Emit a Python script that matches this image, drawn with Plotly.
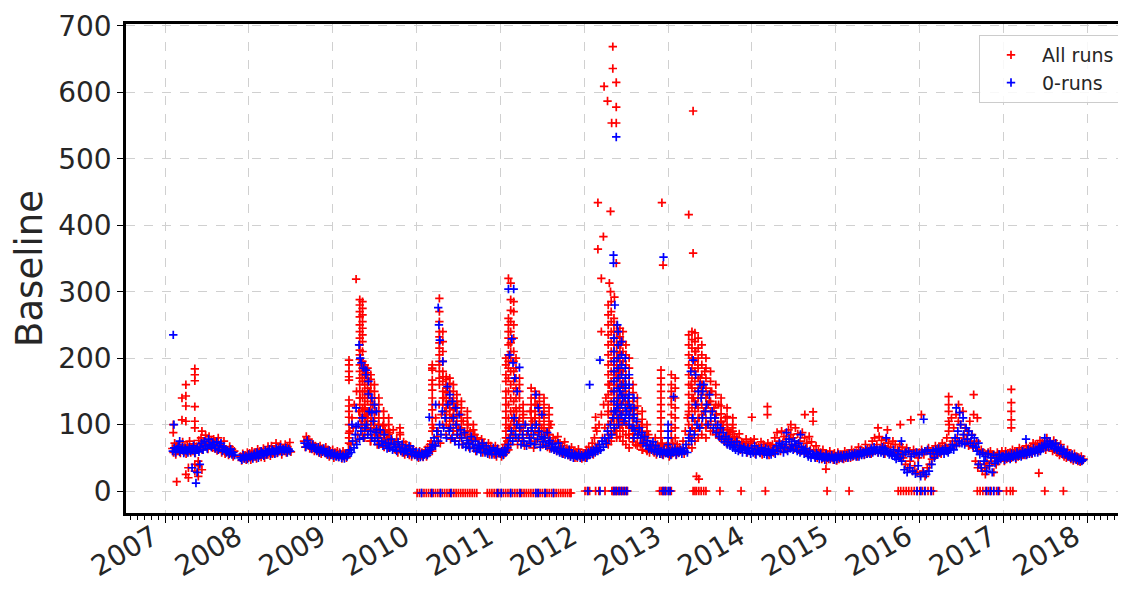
import pandas as pd
import plotly.graph_objects as go

# ---------------- data ----------------
# "All runs" baseline band: (start date, values every RED_STEP days)
RED_STEP = 5
RED_SEGMENTS = [
    ("2007-02-01", [64,58,72,55,68,61, 70,57,63,74,59,66, 56,69,62,75,58,65, 60,71,57,67,63,76,
                    66,80,62,74,70,84, 72,63,82,68,77,65, 78,64,73,61,80,69, 70,58,66,75,56,63,
                    61,54,67,57,63,52,60]),
    ("2007-11-25", [52,46,56,49,54,47,58, 50,57,47,60,52,55, 58,49,63,53,60,51, 55,64,50,61,57,67,
                    60,53,68,56,63,58,72, 57,66,60,70,55,64, 62,70,58,67,61,73,59]),
    ("2008-08-28", [75,66,82,70,78,64, 72,63,70,60,68,66, 62,58,68,56,64,60, 58,66,55,62,52,60,
                    55,62,50,58,53,60, 51,58,54,49,60,52,56,50,57]),
    ("2009-03-10", [62,90,70,110, 95,130,75,150,85,120, 140,100,170,80,125,110, 115,90,150,75,105,130,
                    95,80,120,70,100,88, 85,72,98,66,90,78, 80,65,88,70,76,92, 72,62,78,58,68,85,
                    66,58,74,55,70,62, 60,54,67,52,63,57, 55,60]),
    ("2010-01-04", [56,50,60,53,58,51, 55,62,52,66,58,70, 75,60,95,68,110,82, 90,130,72,115,100,140,
                    120,85,150,95,135,78, 110,90,125,75,100,130, 95,80,115,70,105,88, 85,72,100,66,90,78,
                    75,65,85,60,80,70, 70,62,78,58,72,65, 65,58,72,55,68,61, 62,55,68,52,64,58]),
    ("2011-01-01", [58,52,64,55,70,60, 75,62,95,70,110,85, 100,80,120,70,105,90, 95,75,115,68,100,85,
                    90,70,120,80,105,65, 110,75,130,88,100,70, 95,70,115,80,90,66, 85,64,100,72,80,62,
                    75,60,82,66,72,58, 68,56,74,60,64,54, 62,52,66,55,60,50, 58,50,63,53,57,49,55]),
    ("2012-01-01", [55,50,62,53,66,58, 60,72,55,80,64,90, 70,100,62,115,80,130, 95,140,75,120,160,85,
                    150,110,200,90,175,130, 180,120,220,100,160,140, 150,100,130,85,120,95,
                    110,80,125,70,95,85, 90,70,100,62,80,75, 75,62,85,58,70,66, 68,58,80,55,70,62,
                    65,56,72,54,62,58,68]),
    ("2013-01-01", [58,52,65,55,72,60, 62,54,70,57,66,60, 60,75,56,90,65,110, 120,80,160,95,140,180,
                    210,130,190,110,170,150, 160,120,180,100,145,130, 135,100,150,90,125,110,
                    115,90,130,80,105,95, 100,80,110,72,92,85, 88,72,95,68,82,76, 80,66,86,62,74,70,
                    72,62,78,58,68,64,75]),
    ("2014-01-01", [72,60,78,56,68,64, 66,58,74,55,70,62, 64,56,72,54,68,60, 70,58,80,62,88,66,
                    75,60,90,68,82,64, 78,62,92,70,85,66, 80,64,95,70,86,62, 75,60,88,66,80,58,
                    72,56,82,62,74,55, 62,52,68,50,60,55, 58,48,62,50,56,46, 55,48,60,50,54,47,57]),
    ("2015-01-01", [52,46,58,48,55,50, 54,48,60,50,57,52, 56,50,62,52,58,54, 58,52,66,55,62,57,
                    60,54,70,56,64,58, 65,56,75,60,80,62, 70,58,82,62,76,60, 68,56,78,60,72,58,
                    66,55,75,58,70,56, 62,52,70,55,66,50, 58,40,65,35,60,45, 55,30,62,38,58,28,50]),
    ("2016-01-01", [58,25,62,30,55,22, 60,35,65,40,58,48, 62,52,68,55,64,58, 65,56,72,60,68,62,
                    80,62,100,70,110,75, 95,70,115,80,105,72, 100,75,120,85,95,78, 90,68,105,75,85,65,
                    70,45,75,35,60,40, 62,30,58,35,55,42, 58,38,60,45,55,28, 52,40,58,45,55,48,60]),
    ("2017-01-01", [55,45,60,48,57,50, 58,50,62,52,60,48, 60,52,65,55,62,54, 62,54,68,56,64,58,
                    66,56,72,60,70,62, 70,60,76,64,72,66, 74,62,80,66,75,68, 70,60,76,62,72,58,
                    64,54,70,56,62,52, 58,50,62,52,56,48, 54,46,56,48,52,45, 50,44,52,46,48]),
]

# "All runs" high-baseline columns (date, values observed around that date)
RED_COLUMNS = [
    ("2007-02-05", [100, 88]), ("2007-02-20", [14]), ("2007-03-15", [140, 107]),
    ("2007-04-01", [143, 160, 128, 105, 25]), ("2007-04-12", [20, 35]),
    ("2007-05-10", [184, 175, 166, 127, 105, 95, 40, 30]), ("2007-05-25", [22, 45, 38]),
    ("2007-06-10", [90, 32]),
    ("2009-03-12", [197, 190, 180, 172, 167, 137, 128, 120, 111, 100, 87, 80, 72]),
    ("2009-04-12", [319]),
    ("2009-04-28", [288, 280, 270, 262, 250, 240, 230, 220, 212, 205, 198, 190, 180, 170, 160, 150, 140, 130, 120, 110]),
    ("2009-05-10", [285, 275, 265, 255, 245, 235, 225, 210, 195, 185, 175, 165, 150, 140, 125, 115, 105, 95, 85]),
    ("2009-05-20", [190, 182, 176, 170, 160, 150, 140, 130, 122, 112, 100, 90, 80]),
    ("2009-06-01", [185, 178, 170, 165, 155, 145, 135, 120, 110, 100, 92]),
    ("2009-06-15", [175, 168, 160, 150, 140, 130, 118, 105, 95, 85, 75]),
    ("2009-07-01", [160, 150, 140, 130, 120, 110, 100, 90, 80]),
    ("2009-07-20", [140, 130, 120, 110, 100, 90, 80, 70]),
    ("2009-08-10", [120, 110, 100, 92, 85, 75]),
    ("2009-09-01", [110, 100, 92, 85, 78, 70]),
    ("2009-10-20", [95, 88]),
    ("2010-03-10", [190, 185, 182, 167, 160, 152, 140, 130, 122, 110, 100, 90]),
    ("2010-04-10", [290, 270, 255, 240, 232, 223, 215, 205, 195, 190, 180, 170, 160]),
    ("2010-04-25", [240, 225, 210, 195, 180, 172, 165, 150, 140, 130]),
    ("2010-05-10", [172, 168, 160, 155, 148, 140, 130, 120, 110, 100]),
    ("2010-05-25", [170, 162, 150, 140, 135, 125, 115, 105, 95]),
    ("2010-06-10", [160, 150, 140, 132, 122, 112, 100, 90]),
    ("2010-06-25", [145, 135, 125, 115, 105, 95, 85]),
    ("2010-07-15", [135, 125, 115, 105, 95, 85]),
    ("2010-08-10", [120, 110, 100, 90, 80]),
    ("2010-09-05", [100, 92, 85, 78]),
    ("2011-01-25", [200, 190, 175, 165, 150, 140, 130, 120, 110, 100, 90, 80, 70, 60]),
    ("2011-02-05", [320, 260, 250, 240, 230, 220, 205, 195, 185, 170, 150, 130, 110, 95, 80]),
    ("2011-02-15", [313, 288, 272, 255, 240, 223, 210, 200, 180, 160, 140, 120, 100, 85]),
    ("2011-02-28", [285, 270, 250, 230, 210, 195, 180, 165, 150, 135, 120, 105, 90]),
    ("2011-03-10", [200, 185, 170, 155, 140, 125, 110, 95, 80]),
    ("2011-03-25", [170, 160, 150, 140, 125, 110, 95, 80]),
    ("2011-04-10", [130, 120, 110, 100, 90, 80]),
    ("2011-05-15", [155, 140, 130, 120, 110, 100, 90, 80]),
    ("2011-06-01", [150, 140, 130, 120, 110, 100, 90]),
    ("2011-06-20", [145, 135, 125, 115, 105, 95, 85]),
    ("2011-07-10", [140, 130, 120, 110, 100, 90, 80]),
    ("2011-08-01", [125, 115, 105, 95, 85, 75]),
    ("2012-02-20", [111, 95]), ("2012-03-01", [434, 364]), ("2012-03-16", [320, 240]),
    ("2012-03-25", [383]), ("2012-03-28", [609]), ("2012-04-12", [587]),
    ("2012-04-20", [313]), ("2012-04-25", [421, 300]), ("2012-04-30", [554]),
    ("2012-05-05", [669, 636]), ("2012-05-20", [615, 578, 554, 343]), ("2012-05-12", [292]),
    ("2012-04-15", [280, 265, 250, 235, 220, 205, 190, 175, 160, 145, 130, 115, 100, 85, 70]),
    ("2012-04-28", [285, 270, 255, 240, 225, 210, 195, 180, 165, 150, 135, 120, 105, 90, 75]),
    ("2012-05-10", [260, 250, 240, 230, 220, 210, 200, 190, 180, 170, 160, 150, 140, 130, 120, 110, 100, 90]),
    ("2012-05-22", [250, 240, 230, 220, 210, 200, 190, 180, 170, 160, 150, 140, 130, 120, 110, 100, 90, 80]),
    ("2012-06-05", [245, 232, 220, 208, 195, 182, 170, 158, 145, 132, 120, 108, 95, 82]),
    ("2012-06-18", [240, 225, 210, 195, 180, 165, 150, 135, 120, 105, 90, 75]),
    ("2012-07-01", [220, 205, 190, 175, 160, 145, 130, 115, 100, 85, 70]),
    ("2012-07-15", [200, 185, 170, 155, 140, 125, 110, 95, 80, 65]),
    ("2012-08-01", [160, 148, 135, 122, 110, 98, 86, 74]),
    ("2012-08-20", [140, 128, 116, 104, 92, 80, 68]),
    ("2012-09-10", [120, 108, 96, 84, 72, 62]),
    ("2012-10-01", [100, 90, 80, 70, 60]),
    ("2012-12-01", [182, 170, 160, 150, 140, 130, 120, 110, 100, 90, 80, 70]),
    ("2012-12-05", [434]), ("2012-12-10", [340]),
    ("2013-01-15", [175, 160, 150, 140, 130, 115, 100, 90, 80]),
    ("2013-02-01", [170, 155, 140, 125, 110, 95, 80]),
    ("2013-04-01", [416, 235, 220, 205, 190, 175, 160, 145, 130, 115, 100, 85, 70]),
    ("2013-04-15", [240, 228, 215, 200, 185, 170, 155, 140, 125, 110, 95, 80, 65]),
    ("2013-04-20", [572, 358]),
    ("2013-04-28", [238, 225, 210, 195, 180, 165, 150, 135, 120, 105, 90, 75]),
    ("2013-05-05", [22]), ("2013-05-15", [18]),
    ("2013-05-12", [230, 215, 200, 185, 170, 155, 140, 125, 110, 95, 80]),
    ("2013-05-28", [220, 205, 190, 175, 160, 145, 130, 115, 100, 85]),
    ("2013-06-15", [200, 185, 170, 155, 140, 125, 110, 95, 80]),
    ("2013-07-05", [180, 165, 150, 135, 120, 105, 90]),
    ("2013-07-28", [160, 145, 130, 115, 100, 85]),
    ("2013-08-20", [140, 128, 116, 104, 92, 80]),
    ("2013-09-15", [125, 112, 100, 88, 76]),
    ("2013-10-10", [110, 100, 90, 80, 70]),
    ("2014-01-01", [111]), ("2014-03-10", [127, 115]), ("2014-06-20", [100]),
    ("2014-08-20", [115]), ("2014-09-25", [119, 105]), ("2014-11-20", [33]),
    ("2015-07-05", [95]), ("2015-08-15", [92]), ("2015-10-10", [100]), ("2015-11-25", [107]),
    ("2016-01-10", [115]), ("2016-05-08", [142, 130, 120, 105, 90]), ("2016-06-20", [130]),
    ("2016-08-25", [145, 115]), ("2016-09-10", [110]), ("2016-10-15", [35, 25]),
    ("2017-02-05", [153, 133, 120, 107, 95]), ("2017-06-05", [27]),
]

# "0-runs" baseline band: (start date, values every BLUE_STEP days)
BLUE_STEP = 6
BLUE_SEGMENTS = [
    ("2007-02-03", [60,65,58,63,67,59,62,66,57,64, 61,58,66,60,63,68,57,62,65,59,
                    66,72,62,75,68,64,78,70,66,73, 70,64,74,62,68,72,60,66,63,58, 60,56,63,55,58,54]),
    ("2007-11-25", [50,47,54,49,52,48,55,51, 53,49,56,52,58,50,55,60, 57,53,61,55,59,63,56,62,
                    60,56,64,58,62,66,59,63, 61,65,58,63,60]),
    ("2008-08-30", [72,66,76,70,68,64,70,65, 63,60,66,58,62,59,64,57, 58,55,61,54,57,53,56,52,
                    54,51,56,50,53,49,55,52]),
    ("2009-03-10", [56,62,58,75,65, 85,70,100,78,90,110,80,95, 100,85,120,90,80,105,75,88,
                    80,70,92,75,68,85,72,64, 72,65,78,62,70,66,60,74, 66,60,70,58,64,62,56,68,
                    60,55,63,54,58,52]),
    ("2010-01-05", [53,58,51,56,52,55,60,54, 57,62,65,70,80,68,90,75, 100,85,120,95,110,80,130,90,
                    95,80,110,75,100,85,70,92, 80,70,88,66,76,72,64,82, 70,64,75,60,68,66,58,72,
                    64,58,68,56,62,60,55,65, 60,55,63,57]),
    ("2011-01-01", [56,60,54,62,58,65,70,80, 90,75,110,85,100,80,95,70, 85,75,100,68,90,80,72,95,
                    85,70,100,78,90,66,82,74, 80,68,88,72,76,64,70,62, 66,60,72,58,64,56,62,55,
                    58,54,62,52,57,50,55,53, 52,56,50,54,51]),
    ("2012-01-01", [52,56,50,58,54,60,56,62, 58,65,60,70,62,75,66,80, 72,90,80,100,85,110,95,120,
                    130,100,150,115,140,105,160,120, 140,110,125,95,115,90,105,85, 95,80,88,72,82,68,76,64,
                    70,62,74,60,68,58,64,56, 60,55,62,57,58]),
    ("2013-01-01", [56,60,54,62,58,64,55,60, 58,62,56,64,60,70,58,80, 90,75,110,85,130,100,150,95,
                    140,110,160,120,130,100,145,110, 120,95,110,88,100,82,95,78, 88,74,82,70,78,68,74,65,
                    70,62,74,60,68,64,58,66, 62,58,65,60,56]),
    ("2014-01-01", [64,58,68,55,62,60,57,65, 60,56,64,54,62,58,55,60, 62,56,68,60,72,64,70,58,
                    66,74,60,78,64,70,62,75, 68,60,72,58,66,62,56,64, 58,52,60,50,56,54,50,57,
                    54,48,56,50,52,47,55,50, 52,48,54,50,47]),
    ("2015-01-01", [52,48,55,50,53,49,54,51, 54,50,56,52,55,53,57,52, 56,52,60,54,58,55,62,56,
                    60,56,64,58,66,60,62,58, 62,58,66,56,64,60,58,55, 58,54,62,52,48,55,60,50,
                    45,55,32,58,28,60,35,52, 30,56,26,58,38]),
    ("2016-01-01", [55,22,58,28,60,25,62,30, 56,40,60,50,62,55,64,58, 60,62,56,65,60,58,62,64,
                    70,62,80,68,90,75,100,72, 85,70,95,78,90,72,84,68, 80,66,60,40,55,35,58,45,
                    52,30,56,38,50,28,54,42, 50,45,55,48,52]),
    ("2017-01-01", [52,47,55,50,53,48,56,51, 55,50,58,53,56,52,60,55, 58,54,62,56,60,57,64,58,
                    62,58,66,60,68,64,70,66, 72,66,75,68,70,64,72,62, 66,60,64,56,62,55,58,52,
                    54,50,55,48,52,47,50,46, 48,45,47]),
]

BLUE_COLUMNS = [
    ("2007-02-05", [235]), ("2007-02-08", [100]), ("2007-03-05", [75]),
    ("2007-04-28", [35]), ("2007-05-15", [12]), ("2007-05-20", [28]), ("2007-06-01", [40]),
    ("2009-03-25", [100]), ("2009-04-12", [125, 97]),
    ("2009-04-25", [220]), ("2009-04-30", [200]), ("2009-05-05", [193]), ("2009-05-15", [185]),
    ("2009-05-25", [182, 175]), ("2009-06-05", [165, 146]), ("2009-06-20", [140, 118]),
    ("2009-07-01", [130]), ("2009-07-10", [120, 93]),
    ("2010-02-25", [111]), ("2010-03-25", [130]), ("2010-04-05", [276]), ("2010-04-08", [250]),
    ("2010-04-12", [227]), ("2010-04-25", [195]), ("2010-05-15", [157]), ("2010-05-25", [145]),
    ("2010-06-05", [135]), ("2010-06-20", [125]), ("2010-07-05", [115]),
    ("2011-02-05", [304]), ("2011-02-28", [304]), ("2011-02-20", [229]), ("2011-02-10", [205]),
    ("2011-02-25", [193]), ("2011-03-25", [186]), ("2011-03-05", [170]), ("2011-03-15", [150]),
    ("2011-06-05", [145]), ("2011-06-15", [125]), ("2011-07-01", [115]),
    ("2012-01-25", [160]), ("2012-03-10", [197]), ("2012-05-08", [355, 343]), ("2012-05-20", [533]),
    ("2012-05-14", [280]), ("2012-05-25", [250]),
    ("2012-05-10", [230, 210, 195, 180, 165, 150, 135, 120]),
    ("2012-05-28", [240, 220, 200, 185, 170, 155, 140, 125, 110]),
    ("2012-06-12", [225, 205, 190, 175, 160, 145, 130, 115]),
    ("2012-06-28", [200, 185, 170, 155, 140, 125, 110]),
    ("2012-07-15", [175, 160, 145, 130, 115, 100]),
    ("2012-08-05", [140, 125, 110, 95, 80]),
    ("2012-12-12", [352]), ("2013-01-01", [100, 90, 80, 70]), ("2013-01-25", [142]),
    ("2013-04-10", [180]), ("2013-04-20", [197]), ("2013-05-01", [175]), ("2013-05-20", [160]),
    ("2013-06-01", [150]),
    ("2014-06-01", [88]), ("2014-08-01", [85]), ("2015-08-10", [80]), ("2015-10-15", [75]),
    ("2016-01-20", [108]), ("2016-06-10", [125]), ("2016-06-25", [118]), ("2016-07-10", [110]),
    ("2016-09-15", [72]), ("2017-04-10", [78]), ("2017-07-01", [80]),
]

# runs whose baseline was recorded as zero
ZERO_LEVEL_EARLY = -3
ZERO_LEVEL_LATE = 0
RED_ZERO_EARLY = [
    "2010-01-03","2010-01-13","2010-01-23","2010-02-02","2010-02-12","2010-02-22","2010-03-04",
    "2010-03-14","2010-03-24","2010-04-03","2010-04-13","2010-04-23","2010-05-03","2010-05-13",
    "2010-05-23","2010-06-02","2010-06-12","2010-06-22","2010-07-02","2010-07-12","2010-07-22",
    "2010-08-01","2010-08-11","2010-08-21","2010-08-31","2010-09-10","2010-09-20","2010-11-05",
    "2010-11-15","2010-11-25","2010-12-05","2010-12-15","2010-12-25","2011-01-04","2011-01-14",
    "2011-01-24","2011-02-03","2011-02-13","2011-02-23","2011-03-05","2011-03-15","2011-03-25",
    "2011-04-04","2011-04-14","2011-04-24","2011-05-04","2011-05-14","2011-05-24","2011-06-03",
    "2011-06-13","2011-06-23","2011-07-03","2011-07-13","2011-07-23","2011-08-02","2011-08-12",
    "2011-08-22","2011-09-01","2011-09-11","2011-09-21","2011-10-01","2011-10-11","2011-10-21",
    "2011-10-31","2011-11-05",
]
RED_ZERO_LATE = [
    "2012-01-05","2012-01-15","2012-01-25","2012-02-20","2012-03-05","2012-04-01","2012-05-01",
    "2012-05-06","2012-05-12","2012-05-18","2012-05-24","2012-06-01","2012-06-08","2012-06-15",
    "2012-06-22","2012-07-01","2012-07-08","2012-11-25","2012-12-02","2012-12-09","2012-12-16",
    "2012-12-23","2013-01-05","2013-01-15","2013-04-20","2013-04-28","2013-05-05","2013-05-15",
    "2013-05-25","2013-06-05","2013-06-15","2013-08-15","2013-11-15","2014-03-01","2014-11-25",
    "2015-03-01","2015-10-01","2015-10-12","2015-10-24","2015-11-05","2015-11-16","2015-11-28",
    "2015-12-10","2015-12-22","2016-01-03","2016-01-15","2016-01-27","2016-02-08","2016-02-20",
    "2016-03-02","2016-09-10","2016-09-22","2016-10-04","2016-10-16","2016-10-28","2016-11-09",
    "2016-11-21","2016-12-03","2016-12-15","2017-01-15","2017-02-01","2017-02-12","2017-07-01",
    "2017-09-20",
]
BLUE_ZERO_EARLY = [
    "2010-01-22","2010-03-08","2010-04-15","2010-05-30","2010-12-20","2011-01-05","2011-02-15",
    "2011-03-28","2011-06-05","2011-07-15","2011-06-15","2011-08-20",
]
BLUE_ZERO_LATE = [
    "2012-01-18","2012-03-10","2012-05-10","2012-05-20","2012-06-01","2012-06-12","2012-06-24",
    "2012-07-05","2012-12-10","2012-12-20","2013-01-01","2013-01-10","2015-12-22","2016-01-08",
    "2016-01-25","2016-02-22","2016-10-20","2016-11-05","2016-11-20","2016-12-10",
]

YEAR_TICKS = [str(y) for y in range(2007, 2019)]


# ---------------- build the traces ----------------
def expand(segments, step, columns, zeros_early, zeros_late):
    xs, ys = [], []
    for start, vals in segments:
        d0 = pd.Timestamp(start)
        for i, v in enumerate(vals):
            xs.append(d0 + pd.Timedelta(days=step * i))
            ys.append(v)
    for d, vals in columns:
        for v in vals:
            xs.append(pd.Timestamp(d))
            ys.append(v)
    for d in zeros_early:
        xs.append(pd.Timestamp(d)); ys.append(ZERO_LEVEL_EARLY)
    for d in zeros_late:
        xs.append(pd.Timestamp(d)); ys.append(ZERO_LEVEL_LATE)
    return xs, ys


rx, ry = expand(RED_SEGMENTS, RED_STEP, RED_COLUMNS, RED_ZERO_EARLY, RED_ZERO_LATE)
bx, by = expand(BLUE_SEGMENTS, BLUE_STEP, BLUE_COLUMNS, BLUE_ZERO_EARLY, BLUE_ZERO_LATE)

fig = go.Figure()
fig.add_trace(go.Scatter(
    x=rx, y=ry, mode="markers", name="All runs", legendgroup="a",
    marker=dict(symbol="cross-thin", size=6, color="#ff0000",
                line=dict(width=1.7, color="#ff0000")),
))
fig.add_trace(go.Scatter(
    x=bx, y=by, mode="markers", name="0-runs", legendgroup="b",
    marker=dict(symbol="cross-thin", size=6, color="#0000ff",
                line=dict(width=1.7, color="#0000ff")),
))

# the page keeps the browser's default 8 px body margin, so the figure is
# sized 8 px smaller than the window and its margins are offset to match.
FONT = "DejaVu Sans"
TXT = "#262626"
fig.update_layout(
    width=1118, height=583,
    margin=dict(l=118, r=0, t=16, b=78, autoexpand=False),
    paper_bgcolor="white", plot_bgcolor="white",
    font=dict(family=FONT, color=TXT),
    showlegend=True,
    legend=dict(
        x=0.994, y=0.9775, xanchor="right", yanchor="top",
        bgcolor="rgba(255,255,255,0.85)", bordercolor="#cccccc", borderwidth=1,
        font=dict(family=FONT, size=19, color=TXT),
        itemsizing="trace", itemwidth=52, tracegroupgap=0,
    ),
    hovermode=False,
)
fig.update_xaxes(
    type="date", automargin=False,
    range=["2006-07-14", "2018-06-20"],
    tickmode="array",
    tickvals=[f"{y}-01-01" for y in YEAR_TICKS],
    ticktext=YEAR_TICKS,
    tickangle=-30, ticklabelshift=-12, ticklabelstandoff=-13,
    tickfont=dict(family=FONT, size=28, color=TXT),
    ticks="outside", ticklen=7, tickwidth=1.3, tickcolor="black",
    showline=True, linewidth=2.5, linecolor="black", mirror=True,
    showgrid=True, gridcolor="#d0d0d0", griddash="dash", gridwidth=1,
    zeroline=False,
    minor=dict(ticks="outside", ticklen=4, tickwidth=1, tickcolor="black",
               dtick="M1", tick0="2007-01-01", showgrid=False),
)
fig.update_yaxes(
    automargin=False,
    range=[-33.1, 703],
    tickmode="array", tickvals=list(range(0, 701, 100)),
    tickfont=dict(family=FONT, size=28, color=TXT),
    ticks="outside", ticklen=6, tickwidth=1.3, tickcolor="black",
    showline=True, linewidth=2.5, linecolor="black", mirror=False,
    showgrid=True, gridcolor="#d0d0d0", griddash="dash", gridwidth=1,
    zeroline=False,
    title=dict(text="Baseline", font=dict(family=FONT, size=37, color=TXT), standoff=8),
)

fig.write_html("out.html", config={"displayModeBar": False})
